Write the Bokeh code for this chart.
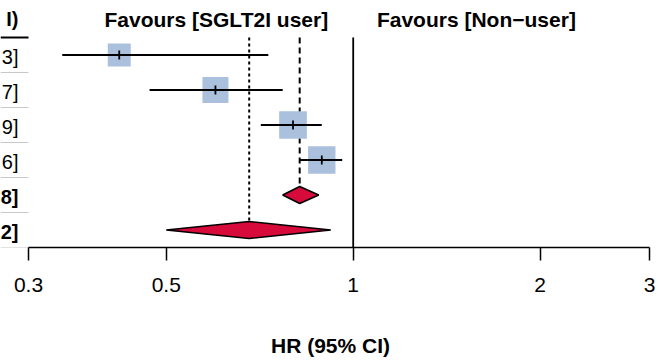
import numpy as np
from bokeh.plotting import figure
from bokeh.models import Range1d, FixedTicker
from bokeh.core.properties import value
from bokeh.embed import file_html
from bokeh.resources import INLINE

# ---------------- data ----------------
study_hr = [0.42, 0.60, 0.80, 0.89]
study_lo = [0.34, 0.47, 0.71, 0.82]
study_hi = [0.73, 0.77, 0.89, 0.96]
study_weight = [18.8, 24.0, 27.3, 26.7]
pooled_hr = [0.82, 0.68]          # common effect, random effects
pooled_lo = [0.77, 0.50]
pooled_hi = [0.88, 0.92]
tick_values = [0.3, 0.5, 1, 2, 3]
tick_labels = ["0.3", "0.5", "1", "2", "3"]
header_text = "HR (95% CI)"
label_left = "Favours [SGLT2I user]"
label_right = "Favours [Non\u2212user]"
axis_title = "HR (95% CI)"

# ---------------- layout constants ----------------
W, H = 660, 362
PX_DEC = 621.0
ROW_PX = 35.0
FONT = "Liberation Sans"
FS = "21px"
SQ_COL = "#ABC0DD"
DIA_COL = "#D70A3C"

log_start = np.log10(tick_values[0]) - 28 / PX_DEC
log_end = np.log10(tick_values[-1]) + (W - 649) / PX_DEC
x_start, x_end = 10 ** log_start, 10 ** log_end

n_st = len(study_hr)
st_rows = list(range(1, n_st + 1))
pool_rows = [n_st + 1, n_st + 2]
y_bottom = n_st + 2.5
y_top = -19.5 / ROW_PX

p = figure(width=W, height=H, x_axis_type="log",
           x_range=Range1d(x_start, x_end), y_range=Range1d(y_bottom, y_top),
           output_backend="svg", toolbar_location=None,
           min_border_left=0, min_border_right=0, min_border_top=0,
           min_border_bottom=115,
           background_fill_color="white", border_fill_color="white")
p.outline_line_color = None
p.xgrid.visible = False
p.ygrid.visible = False
p.yaxis.visible = False

ax = p.xaxis[0]
ax.ticker = FixedTicker(ticks=tick_values, minor_ticks=[])
ax.bounds = (tick_values[0], tick_values[-1])
ax.major_label_overrides = {v: t for v, t in zip(tick_values, tick_labels)}
ax.major_tick_in = 0
ax.major_tick_out = 13
ax.minor_tick_out = 0
ax.minor_tick_in = 0
ax.axis_line_width = 1.5
ax.major_tick_line_width = 1.5
ax.axis_line_color = "black"
ax.major_tick_line_color = "black"
ax.major_label_text_font = FONT
ax.major_label_text_font_size = FS
ax.major_label_text_color = "black"
ax.major_label_standoff = 17
ax.axis_label = axis_title
ax.axis_label_text_font = FONT
ax.axis_label_text_font_size = FS
ax.axis_label_text_font_style = "bold"
ax.axis_label_text_color = "black"
ax.axis_label_standoff = 39

# table separators (left, cropped table)
sep_rows = [r + 0.5 for r in st_rows + pool_rows]
p.segment(x0=[x_start] * len(sep_rows), x1=[tick_values[0]] * len(sep_rows),
          y0=sep_rows, y1=sep_rows, line_color="#C8C8C8", line_width=1)
p.segment(x0=[x_start], x1=[tick_values[0]], y0=[0.5], y1=[0.5],
          line_color="black", line_width=2)

# reference line at 1
p.segment(x0=[1], x1=[1], y0=[0.5], y1=[y_bottom], line_color="black", line_width=1.8)

dia_h = 8.5 / ROW_PX
# pooled estimate lines
p.segment(x0=[pooled_hr[0]], x1=[pooled_hr[0]], y0=[0.5], y1=[pool_rows[0] - dia_h],
          line_color="black", line_width=2, line_dash="6 4")
p.segment(x0=[pooled_hr[1]], x1=[pooled_hr[1]], y0=[0.5], y1=[pool_rows[1] - dia_h],
          line_color="black", line_width=2, line_dash="3 3")

# squares
sizes = [5.3 * np.sqrt(w) for w in study_weight]
p.scatter(x=study_hr, y=st_rows, size=sizes, marker="square",
          fill_color=SQ_COL, line_color=None)
# CI lines
p.segment(x0=study_lo, x1=study_hi, y0=st_rows, y1=st_rows,
          line_color="black", line_width=1.8)
# point ticks
p.scatter(x=study_hr, y=st_rows, marker="dash", angle=np.pi / 2, size=9,
          line_color="black", line_width=1.8)

# diamonds
xs = [[lo, hr, hi, hr] for lo, hr, hi in zip(pooled_lo, pooled_hr, pooled_hi)]
ys = [[r, r - dia_h, r, r + dia_h] for r in pool_rows]
p.patches(xs=xs, ys=ys, fill_color=DIA_COL, line_color="black", line_width=1.5)

# left table text: only the visible tail of the (cropped) CI column
x_txt = 10 ** (log_start + 18 / PX_DEC)
st_txt = [f"{h:.2f} [{l:.2f}; {u:.2f}]"[-2:] for h, l, u in zip(study_hr, study_lo, study_hi)]
pl_txt = [f"{h:.2f} [{l:.2f}; {u:.2f}]"[-2:] for h, l, u in zip(pooled_hr, pooled_lo, pooled_hi)]
p.text(x=[x_txt] * n_st, y=st_rows, text=st_txt, text_align="right",
       text_baseline="alphabetic", y_offset=2, text_font=value(FONT),
       text_font_size="20px", text_color="black")
p.text(x=[x_txt] * 2, y=pool_rows, text=pl_txt, text_align="right",
       text_baseline="alphabetic", y_offset=2, text_font=value(FONT),
       text_font_size="20px", text_font_style="bold", text_color="black")
p.text(x=[x_txt], y=[0], text=[header_text[-2:]], text_align="right",
       text_baseline="alphabetic", y_offset=-1, text_font=value(FONT),
       text_font_size="20px", text_font_style="bold", text_color="black")

# favours labels
p.text(x=[0.602, 1.579], y=[0, 0], text=[label_left, label_right], text_align="center",
       text_baseline="alphabetic", y_offset=-1, text_font=value(FONT),
       text_font_size=FS, text_font_style="bold", text_color="black")

open("out.html", "w").write(file_html(p, INLINE))
